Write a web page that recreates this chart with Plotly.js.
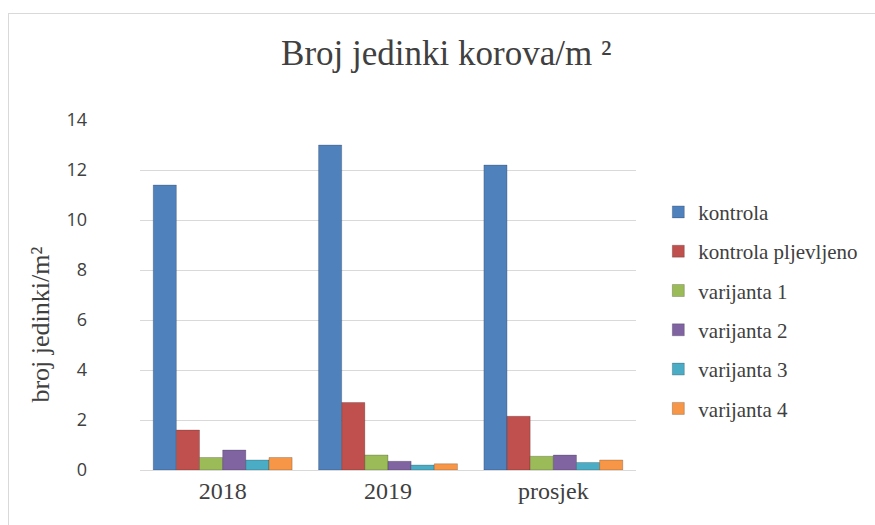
<!DOCTYPE html>
<html>
<head>
<meta charset="utf-8">
<script src="https://cdn.plot.ly/plotly-3.0.1.min.js"></script>
<style>
  html, body { margin: 0; padding: 0; background: #fff; overflow: hidden; }
  #chart { position: absolute; left: 0; top: 0; width: 875px; height: 525px; }
  #frame { position: absolute; left: 8px; top: 13px; width: 900px; height: 560px;
           border: 1.5px solid #d9d9d9; pointer-events: none; }
</style>
</head>
<body>
<div id="chart"></div>
<div id="frame"></div>
<script>
const categories = ["2018", "2019", "prosjek"];
const seriesNames = ["kontrola", "kontrola pljevljeno", "varijanta 1", "varijanta 2", "varijanta 3", "varijanta 4"];
const kontrola = [11.4, 13.0, 12.2];
const kontrolaPljevljeno = [1.6, 2.7, 2.15];
const varijanta1 = [0.5, 0.6, 0.55];
const varijanta2 = [0.8, 0.35, 0.6];
const varijanta3 = [0.4, 0.2, 0.3];
const varijanta4 = [0.5, 0.25, 0.4];
const seriesValues = [kontrola, kontrolaPljevljeno, varijanta1, varijanta2, varijanta3, varijanta4];
const colors = ["#4F81BD", "#C0504D", "#9BBB59", "#8064A2", "#4BACC6", "#F79646"];
const yTicks = [0, 2, 4, 6, 8, 10, 12, 14];
const yTitle = "broj jedinki/m²";

const serif = "Liberation Serif, Times New Roman, serif";
const sans = "Open Sans, Liberation Sans, sans-serif";

const traces = seriesNames.map((name, i) => ({
  type: "bar",
  name: name,
  x: categories,
  y: seriesValues[i],
  legendgroup: "g" + i,
  marker: { color: colors[i], line: { width: 0.8, color: "rgba(0,0,0,0.25)" } },
  hoverinfo: "x+y+name"
}));

const layout = {
  width: 875,
  height: 525,
  margin: { l: 140, r: 235, t: 120, b: 55 },
  paper_bgcolor: "#ffffff",
  plot_bgcolor: "#ffffff",
  bargap: 0.16,
  bargroupgap: 0,
  title: {
    text: "Broj jedinki korova/m ²",
    font: { family: serif, size: 35, color: "#404040" },
    x: 0.51, xanchor: "center", y: 0.9, yanchor: "middle"
  },
  xaxis: {
    type: "category",
    tickfont: { family: serif, size: 24, color: "#404040" },
    showgrid: false,
    showline: false,
    ticks: "",
    ticklabelstandoff: 4
  },
  yaxis: {
    range: [0, 14],
    tickvals: yTicks,
    ticktext: yTicks.map(String),
    tickfont: { family: sans, size: 18, color: "#404040" },
    showgrid: true,
    gridcolor: "#d9d9d9",
    gridwidth: 1,
    zeroline: true,
    zerolinecolor: "#d9d9d9",
    showline: false,
    ticks: "",
    ticklabelstandoff: 52
  },
  annotations: [{
    text: yTitle,
    xref: "paper", yref: "paper",
    x: -0.2, y: 0.415,
    xanchor: "center", yanchor: "middle",
    textangle: -90,
    showarrow: false,
    font: { family: serif, size: 26, color: "#404040" }
  }],
  legend: {
    x: 1.045, xanchor: "left",
    y: 0.795, yanchor: "top",
    font: { family: serif, size: 21, color: "#404040" },
    tracegroupgap: 9,
    itemwidth: 30,
    bgcolor: "rgba(0,0,0,0)"
  },
  showlegend: true
};

Plotly.newPlot("chart", traces, layout, { displayModeBar: false, staticPlot: true });
</script>
</body>
</html>
